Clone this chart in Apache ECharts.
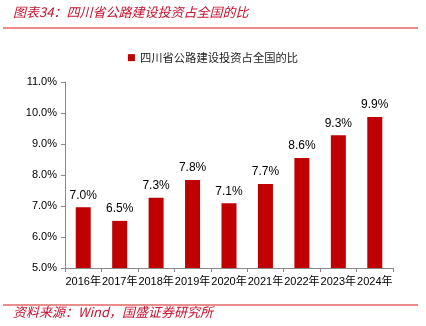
<!DOCTYPE html>
<html>
<head>
<meta charset="utf-8">
<script src="https://cdn.jsdelivr.net/npm/echarts@6/dist/echarts.min.js"></script>
<style>html,body{margin:0;padding:0;background:#fff;}#c{width:426px;height:326px;}</style>
</head>
<body>
<div id="c"></div>
<script>
const categories = ['2016年','2017年','2018年','2019年','2020年','2021年','2022年','2023年','2024年'];
const seriesName = '四川省公路建设投资占全国的比';
const values = [6.96, 6.52, 7.27, 7.84, 7.09, 7.71, 8.55, 9.28, 9.87];
const labels = ['7.0%','6.5%','7.3%','7.8%','7.1%','7.7%','8.6%','9.3%','9.9%'];
const yTicks = [5, 11, 1];
const titleText = '图表34：四川省公路建设投资占全国的比';
const sourceText = '资料来源：Wind，国盛证券研究所';

const chart = echarts.init(document.getElementById('c'), null, {renderer: 'canvas'});
chart.setOption({
  animation: false,
  backgroundColor: '#fff',
  grid: {left: 65, right: 33, top: 82, bottom: 58},
  legend: {
    top: 47, left: 'center',
    itemWidth: 7, itemHeight: 7, itemGap: 4,
    icon: 'rect',
    textStyle: {fontSize: 11.3, color: '#222', fontFamily: 'Noto Sans CJK SC'},
    data: [seriesName]
  },
  xAxis: {
    type: 'category', data: categories,
    axisLine: {lineStyle: {color: '#888', width: 1}},
    axisTick: {show: true, length: 4, lineStyle: {color: '#888'}},
    axisLabel: {fontSize: 11, color: '#000', fontFamily: 'Liberation Sans, Noto Sans CJK SC', margin: 8, interval: 0}
  },
  yAxis: {
    type: 'value', min: yTicks[0], max: yTicks[1], interval: yTicks[2],
    axisLine: {show: true, lineStyle: {color: '#888', width: 1}},
    axisTick: {show: true, length: 4, lineStyle: {color: '#888'}},
    splitLine: {show: false},
    axisLabel: {fontSize: 11, color: '#000', fontFamily: 'Liberation Sans', margin: 8,
      formatter: v => v.toFixed(1) + '%'}
  },
  series: [{
    name: seriesName, type: 'bar', data: values, barWidth: 15,
    itemStyle: {color: '#C00000'},
    label: {show: true, position: 'top', distance: 6, fontSize: 12, color: '#000',
      fontFamily: 'Liberation Sans',
      formatter: p => labels[p.dataIndex]}
  }],
  graphic: [
    {type: 'text', left: 13, top: 6, style: {text: titleText, fill: '#C8102E', fontSize: 13, fontStyle: 'italic', fontFamily: 'Noto Sans CJK SC'}},
    {type: 'line', shape: {x1: 3, y1: 28, x2: 418, y2: 28}, style: {stroke: '#E06666', lineWidth: 1.5}},
    {type: 'line', shape: {x1: 3, y1: 305, x2: 418, y2: 305}, style: {stroke: '#E06666', lineWidth: 1.5}},
    {type: 'text', left: 13, top: 306, style: {text: sourceText, fill: '#C8102E', fontSize: 13, fontStyle: 'italic', fontFamily: 'Noto Sans CJK SC'}}
  ]
});
</script>
</body>
</html>
